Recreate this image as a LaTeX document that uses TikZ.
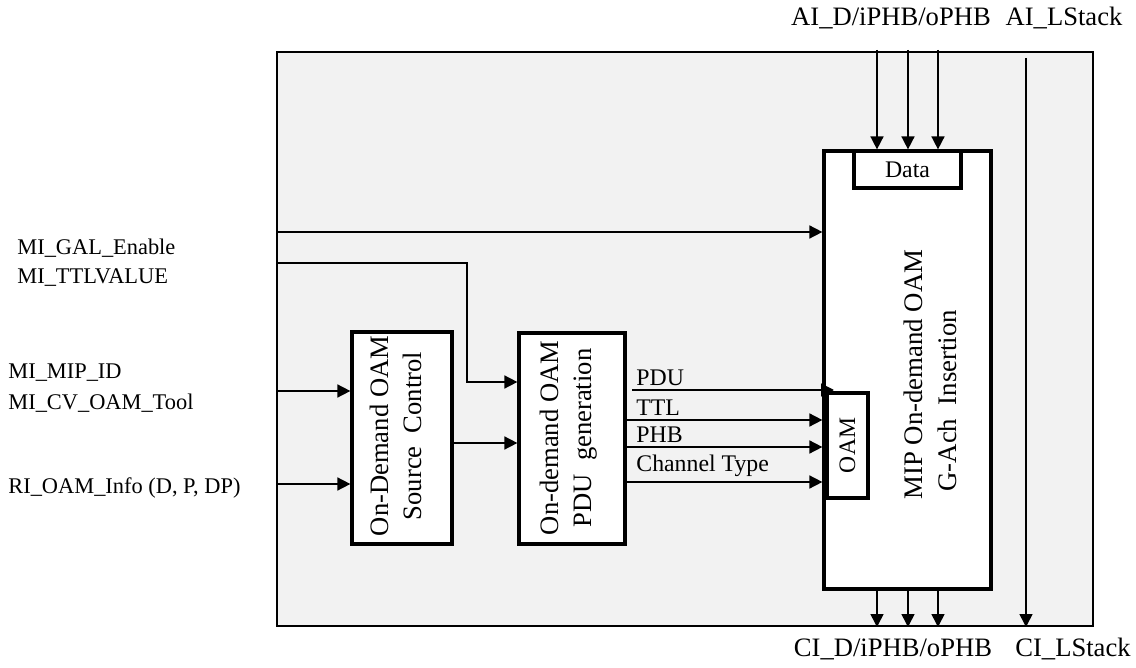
\documentclass[tikz,border=0pt]{standalone}
\usepackage{fontspec}
\setmainfont{Liberation Serif}
\usetikzlibrary{arrows.meta,fit}
\begin{document}
\begin{tikzpicture}[x=0.5pt,y=-0.5pt,
  font=\fontsize{11.2}{13.4}\selectfont,
  outerbox/.style={draw=black,line width=1pt,fill=black!5,inner sep=0pt},
  thickbox/.style={draw=black,line width=1.6pt,fill=white,inner sep=0pt,line join=miter},
  arr/.style={line width=0.8pt,-{Triangle[length=6.5pt,width=6.5pt]}},
  lbl/.style={inner sep=0pt,anchor=west},
  sig/.style={inner sep=0pt,anchor=south west,font=\fontsize{11.9}{14}\selectfont},
  io/.style={inner sep=0pt,font=\fontsize{13.3}{16}\selectfont},
  rtxt/.style={rotate=90,align=center,inner sep=0pt,font=\fontsize{13.3}{16.5}\selectfont}]
\useasboundingbox (0,0) rectangle (1136,668);
% outer
\node[outerbox,fit={(277,52)(1093,626)}] (outer) {};
% boxes
\node[thickbox,fit={(824,151)(991,589)}] (main) {};
\node[thickbox,fit={(854,151)(961,188)}] (data) {};
\node[font=\fontsize{11.9}{14}\selectfont] (datat) at (data.center) {Data};
\node[rtxt,align=left,anchor=west,font=\fontsize{13.4}{17}\selectfont] (maint) at (930,500) {MIP On-demand OAM\\\hspace*{4pt}G-Ach\ \ Insertion};
\node[thickbox,fit={(827,393)(868,498)}] (oam) {};
\node[rtxt,font=\fontsize{11.8}{14}\selectfont] (oamt) at (oam.center) {OAM};
\node[thickbox,fit={(352,332)(452,544)}] (src) {};
\node[rtxt] (srct) at (396,436) {On-Demand OAM\\Source\ \ Control};
\node[thickbox,fit={(519,333)(625,544)}] (pdu) {};
\node[rtxt] (pdut) at (569,438) {On-demand OAM\\PDU\ \ generation};
% coordinates
\coordinate (yGal) at (0,232);
\coordinate (yTtl) at (0,263);
\coordinate (yMip) at (0,391);
\coordinate (yRi) at (0,484);
\coordinate (ySrc) at (0,443);
\coordinate (yPin) at (0,382);
\coordinate (xTurn) at (467,0);
\coordinate (yTTL) at (0,420);
\coordinate (yPHB) at (0,447);
\coordinate (yCT) at (0,482);
\coordinate (xA) at (877,0);
\coordinate (xB) at (908,0);
\coordinate (xC) at (938,0);
\coordinate (xL) at (1026,0);
\coordinate (topS) at (0,50);
\coordinate (lsS) at (0,58);
\coordinate (pduS) at (632,390);
\coordinate (pduE) at (834,390);
% left inputs
\draw[arr] (outer.west |- yGal) -- (main.west |- yGal);
\draw[arr] (outer.west |- yTtl) -- (xTurn |- yTtl) -- (xTurn |- yPin) -- (pdu.west |- yPin);
\draw[arr] (outer.west |- yMip) -- (src.west |- yMip);
\draw[arr] (outer.west |- yRi) -- (src.west |- yRi);
\draw[arr] (src.east |- ySrc) -- (pdu.west |- ySrc);
% PDU outputs
\draw[arr] (pduS) -- (pduE);
\draw[arr] (pdu.east |- yTTL) -- (main.west |- yTTL);
\draw[arr] (pdu.east |- yPHB) -- (main.west |- yPHB);
\draw[arr] (pdu.east |- yCT) -- (main.west |- yCT);
\node[sig] (lpdu) at (636,386) {PDU};
\node[sig] (lttl) at (636,416) {TTL};
\node[sig] (lphb) at (636,443) {PHB};
\node[sig] (lct) at (636,477) {Channel Type};
% top / bottom
\draw[arr] (xA |- topS) -- (xA |- main.north);
\draw[arr] (xB |- topS) -- (xB |- main.north);
\draw[arr] (xC |- topS) -- (xC |- main.north);
\draw[arr] (xA |- main.south) -- (xA |- outer.south);
\draw[arr] (xB |- main.south) -- (xB |- outer.south);
\draw[arr] (xC |- main.south) -- (xC |- outer.south);
\draw[arr] (xL |- lsS) -- (xL |- outer.south);
% labels
\node[io] (ai1) at (891,18) {AI\_D/iPHB/oPHB};
\node[io] (ai2) at (1064,18) {AI\_LStack};
\node[io] (ci1) at (893,649) {CI\_D/iPHB/oPHB};
\node[io] (ci2) at (1073,649) {CI\_LStack};
\node[lbl] (l1) at (17,248) {MI\_GAL\_Enable};
\node[lbl] (l2) at (17,278) {MI\_TTLVALUE};
\node[lbl] (l3) at (8,373) {MI\_MIP\_ID};
\node[lbl] (l4) at (8,403) {MI\_CV\_OAM\_Tool};
\node[lbl] (l5) at (8,488) {RI\_OAM\_Info (D, P, DP)};
\end{tikzpicture}
\end{document}
